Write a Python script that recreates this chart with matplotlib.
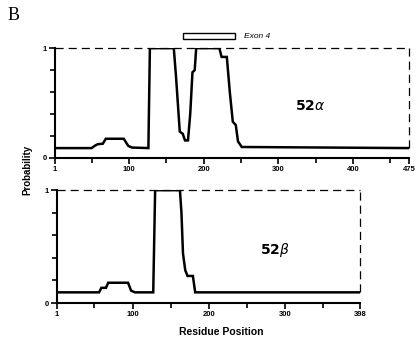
import matplotlib.pyplot as plt
from matplotlib.patches import Rectangle

# 52 alpha: residue position vs probability
res_a = [1, 50, 54, 58, 65, 69, 93, 99, 104, 126, 128, 160, 163, 166, 168, 172, 175,
         179, 182, 185, 188, 190, 221, 224, 231, 235, 239, 243, 246, 251, 475]
prob_a = [0.09, 0.09, 0.11, 0.125, 0.13, 0.175, 0.175, 0.11, 0.095, 0.09, 1.0, 1.0, 0.74,
          0.44, 0.24, 0.22, 0.16, 0.16, 0.4, 0.78, 0.8, 1.0, 1.0, 0.92, 0.92, 0.6,
          0.33, 0.3, 0.15, 0.1, 0.09]

# 52 beta
res_b = [1, 56, 59, 65, 68, 94, 98, 103, 127, 129.5, 162, 164, 166, 169, 172, 179, 182, 398]
prob_b = [0.095, 0.095, 0.135, 0.135, 0.18, 0.18, 0.11, 0.095, 0.095, 1.0, 1.0, 0.8,
          0.44, 0.29, 0.24, 0.24, 0.095, 0.095]

exon4 = (172, 242)

ticks_a = [1, 100, 200, 300, 400, 475]
ticks_b = [1, 100, 200, 300, 398]
minor_a = [50, 150, 250, 350, 450]
minor_b = [50, 150, 250, 350]

plt.rcParams['font.family'] = ['Liberation Sans', 'DejaVu Sans']

fig = plt.figure(figsize=(4.2, 3.39), dpi=100)
ax1 = fig.add_axes([0.131, 0.534, 0.843, 0.324])
ax2 = fig.add_axes([0.136, 0.106, 0.721, 0.333])


def style(ax, res, prob, ticks, minor, name):
    ax.plot(res, prob, color='black', lw=1.8, solid_joinstyle='miter')
    end = res[-1]
    ax.plot([res[0], end], [1, 1], color='black', lw=0.9, ls=(0, (6.5, 4)), clip_on=False)
    ax.plot([end, end], [prob[-1], 1], color='black', lw=0.9, ls=(0, (6.5, 4)), clip_on=False)
    ax.set_xlim(res[0], end)
    ax.set_ylim(0, 1)
    for s in ['top', 'right']:
        ax.spines[s].set_visible(False)
    for s in ['left', 'bottom']:
        ax.spines[s].set_linewidth(1.5)
    ax.set_xticks(ticks)
    ax.set_xticklabels([str(t) for t in ticks], fontsize=5.5, fontweight='bold')
    ax.set_xticks(minor, minor=True)
    ax.set_yticks([0, 1])
    ax.set_yticklabels(['0', '1'], fontsize=5.5, fontweight='bold')
    ax.set_yticks([0.2, 0.4, 0.6, 0.8], minor=True)
    ax.tick_params(which='major', length=4, width=1.2, pad=2)
    ax.tick_params(which='minor', length=3.5, width=1.2)
    ax.text(0.72, 0.47, name, transform=ax.transAxes, fontsize=10,
            ha='center', va='center')


style(ax1, res_a, prob_a, ticks_a, minor_a, r'$\mathbf{52}\mathit{\alpha}$')
style(ax2, res_b, prob_b, ticks_b, minor_b, r'$\mathbf{52}\mathit{\beta}$')

ax1.add_patch(Rectangle((exon4[0], 1.08), exon4[1] - exon4[0], 0.06,
                        facecolor='white', edgecolor='black', lw=1.0, clip_on=False))
ax1.text(exon4[1] + 12, 1.11, 'Exon 4', fontsize=6, style='italic', va='center')

fig.text(0.065, 0.5, 'Probability', rotation=90, fontsize=7, fontweight='bold',
         ha='center', va='center')
fig.text(0.526, 0.02, 'Residue Position', fontsize=7.5, fontweight='bold',
         ha='center', va='center')
fig.text(0.033, 0.955, 'B', fontsize=13, family='Liberation Serif', ha='center', va='center')

plt.savefig('out.png', dpi=100)
